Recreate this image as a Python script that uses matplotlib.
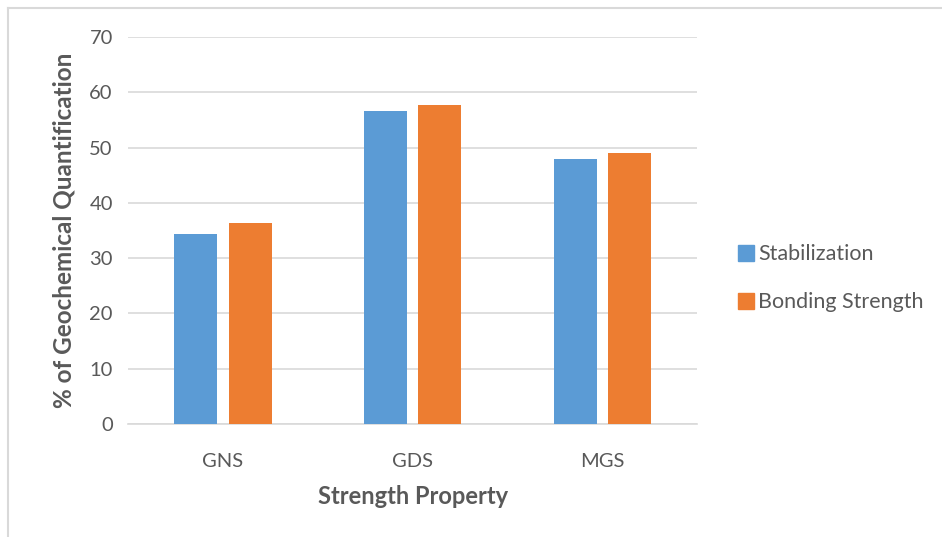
import numpy as np
import matplotlib.pyplot as plt
from matplotlib.lines import Line2D

# Chart data -----------------------------------------------------------------
categories = ["GNS", "GDS", "MGS"]
stabilization = [34.3, 56.6, 47.9]
bonding_strength = [36.3, 57.7, 49.1]
series_names = ["Stabilization", "Bonding Strength"]

BLUE = "#5B9BD5"
ORANGE = "#ED7D31"
TEXT = "#595959"
GRID = "#D9D9D9"

plt.rcParams['font.family'] = ['Lato', 'DejaVu Sans']

fig = plt.figure(figsize=(9.42, 5.37), dpi=100)
ax = fig.add_axes([0.136, 0.2104, 0.604, 0.7207])

x = np.arange(len(categories))
width = 0.227
offset = 0.143
ax.bar(x - offset, stabilization, width, color=BLUE, label=series_names[0], zorder=3)
ax.bar(x + offset, bonding_strength, width, color=ORANGE, label=series_names[1], zorder=3)

ax.set_xlim(-0.5, len(categories) - 0.5)
ax.set_ylim(0, 70)
ax.set_yticks(np.arange(0, 71, 10))
ax.set_xticks(x)
ax.set_xticklabels(categories)
ax.yaxis.grid(True, color=GRID, linewidth=1.2, zorder=0)
ax.set_axisbelow(True)

for side in ["top", "right", "left"]:
    ax.spines[side].set_visible(False)
ax.spines["bottom"].set_color(GRID)
ax.spines["bottom"].set_linewidth(1.2)

ax.tick_params(axis="both", length=0, labelsize=14.5, labelcolor=TEXT)
ax.tick_params(axis="y", pad=11)
ax.tick_params(axis="x", pad=21)

ax.set_xlabel("Strength Property", fontsize=17, fontweight="bold", color=TEXT, labelpad=11)
ax.set_ylabel("% of Geochemical Quantification", fontsize=17.5, fontweight="bold", color=TEXT, labelpad=10)

# legend to the right of the plot area
handles = [Line2D([0], [0], marker="s", linestyle="", markersize=11, color=c)
           for c in (BLUE, ORANGE)]
fig.legend(handles, series_names, loc="center left", bbox_to_anchor=(0.76, 0.482),
           frameon=False, fontsize=15.5, labelcolor=TEXT, handletextpad=0.05,
           labelspacing=1.3, handlelength=1.0)

# thin frame along the top and left edges
fig.add_artist(Line2D([8 / 942, 8 / 942], [0, 1 - 8 / 537], color="#D9D9D9", linewidth=1.5))
fig.add_artist(Line2D([8 / 942, 1], [1 - 8 / 537, 1 - 8 / 537], color="#D9D9D9", linewidth=1.5))

fig.savefig("out.png", dpi=100, facecolor="white")
